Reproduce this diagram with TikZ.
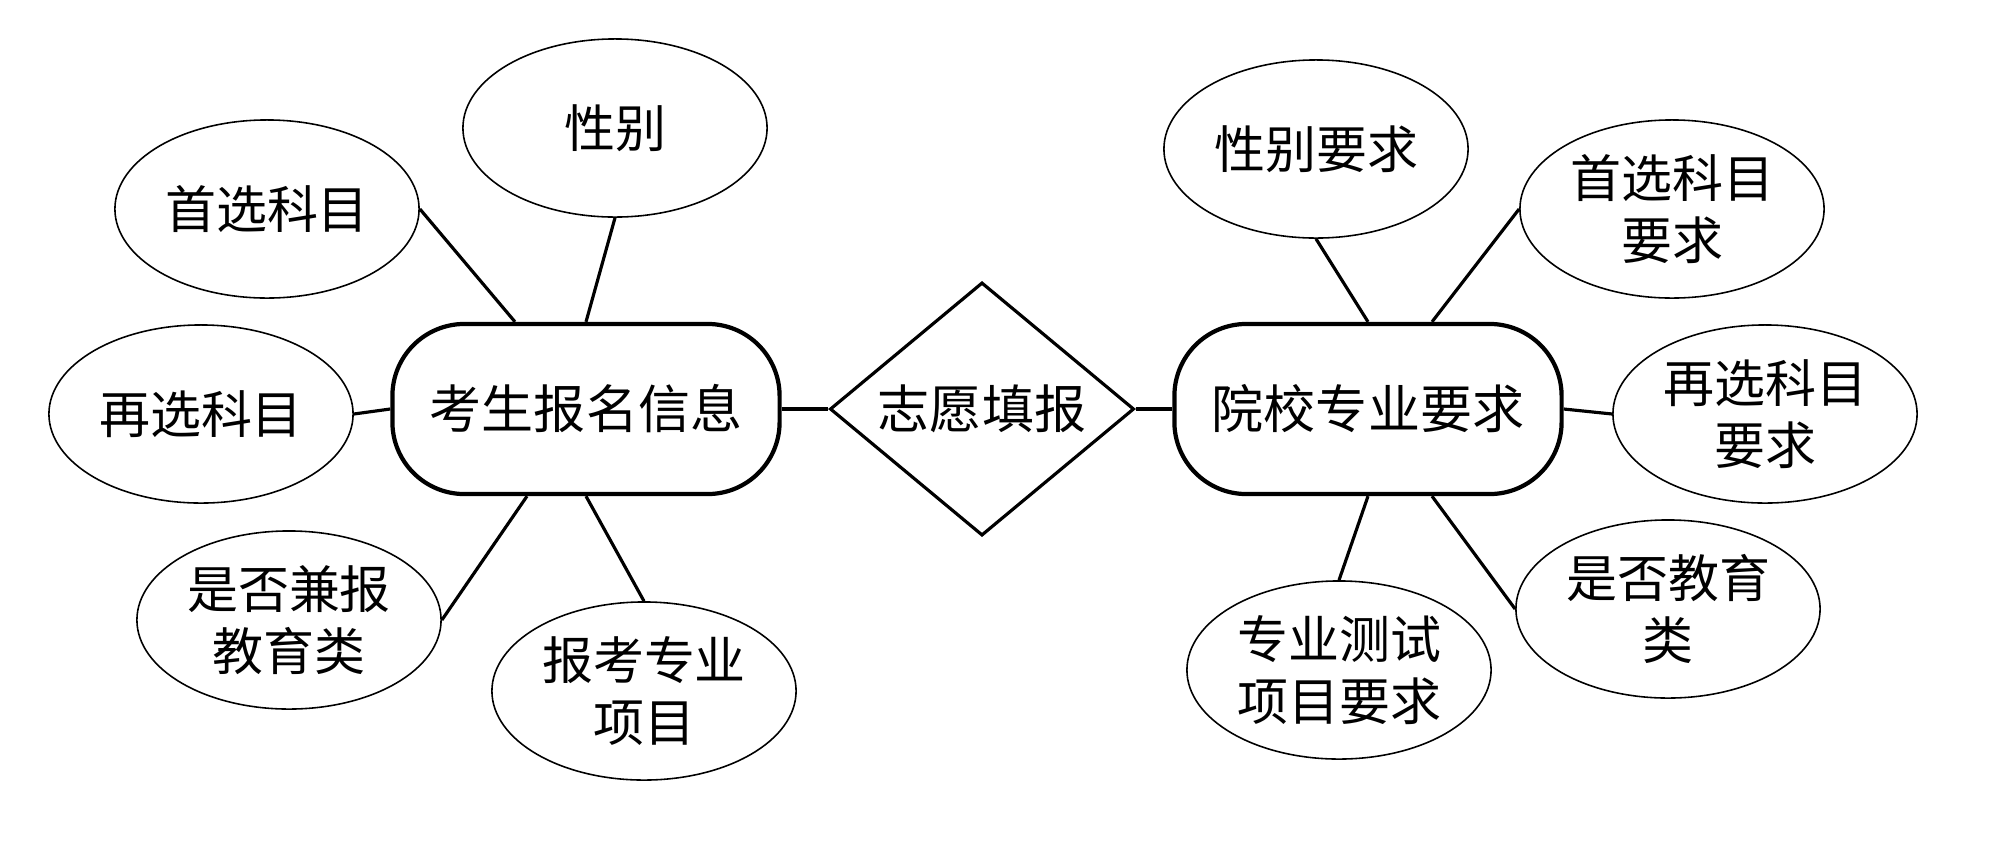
\documentclass[tikz,border=0pt]{standalone}
\usepackage{fontspec}
\newfontfamily\cjk{Noto Sans CJK SC}
\usetikzlibrary{shapes.geometric,calc}
\tikzset{
  attr/.style={ellipse,draw,line width=0.45pt,minimum width=3.04cm,minimum height=1.78cm,inner sep=0pt,align=center,font=\cjk\fontsize{14.5pt}{17.6pt}\selectfont},
  entity/.style={rectangle,rounded corners=0.72cm,draw,line width=1.2pt,minimum width=3.87cm,minimum height=1.70cm,inner sep=0pt,font=\cjk\fontsize{14.8pt}{17.6pt}\selectfont},
  rel/.style={diamond,draw,line width=0.9pt,shape aspect=1.2,minimum width=3.04cm,minimum height=2.53cm,inner sep=0pt,font=\cjk\fontsize{14.8pt}{17.6pt}\selectfont},
  link/.style={line width=0.9pt}
}
\begin{document}
\begin{tikzpicture}[x=0.01cm,y=-0.01cm]
\useasboundingbox (0,0) rectangle (2000,851);
% central nodes
\node[entity] (ks) at (586,409) {考生报名信息};
\node[rel] (dia) at (982,409) {志愿填报};
\node[entity] (ys) at (1368,409) {院校专业要求};
% left attributes
\node[attr] (s1) at (267,209) {首选科目};
\node[attr] (s2) at (615,128) {性别};
\node[attr] (s3) at (201,414) {再选科目};
\node[attr] (s4) at (289,620) {是否兼报\\教育类};
\node[attr] (s5) at (644,691) {报考专业\\项目};
% right attributes
\node[attr] (r1) at (1316,149) {性别要求};
\node[attr] (r2) at (1672,209) {首选科目\\要求};
\node[attr] (r3) at (1765,414) {再选科目\\要求};
\node[attr] (r4) at (1668,609) {是否教育\\类};
\node[attr] (r5) at (1339,670) {专业测试\\项目要求};
% connectors
\draw[link] (ks.east) -- (dia.west);
\draw[link] (dia.east) -- (ys.west);
\draw[link] (s1.east) -- ($(ks.north)+(-71,0)$);
\draw[link] (s2.south) -- (ks.north);
\draw[link] (s3.east) -- (ks.west);
\draw[link] (s4.east) -- ($(ks.south)+(-59,0)$);
\draw[link] (s5.north) -- (ks.south);
\draw[link] (r1.south) -- (ys.north);
\draw[link] (r2.west) -- ($(ys.north)+(64,0)$);
\draw[link] (r3.west) -- (ys.east);
\draw[link] (r4.west) -- ($(ys.south)+(64,0)$);
\draw[link] (r5.north) -- (ys.south);
\end{tikzpicture}
\end{document}
